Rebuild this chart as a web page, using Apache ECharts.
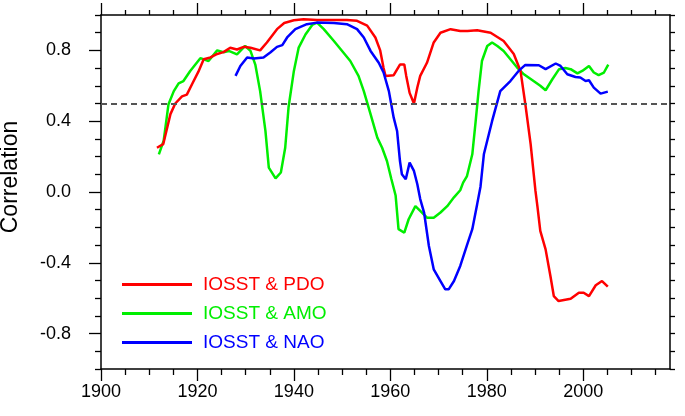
<!DOCTYPE html>
<html>
<head>
<meta charset="utf-8">
<script src="https://cdn.jsdelivr.net/npm/echarts@6/dist/echarts.min.js"></script>
<style>html,body{margin:0;padding:0;background:#fff}#c{width:685px;height:416px}</style>
</head>
<body>
<div id="c"></div>
<script>
// ---- data ----
const pdoYears = [1911.6,1912.9,1914.4,1915.4,1916.8,1917.8,1918.9,1920.2,1921.3,1922.7,1924.1,1925.4,1926.8,1928.2,1929.6,1931,1933,1934.4,1936.5,1938,1940,1942,1944.8,1948,1951,1953.1,1955.2,1956.9,1957.9,1958.6,1959,1960.7,1961.1,1962,1962.9,1963.3,1964,1964.9,1965.6,1966.2,1967.6,1969,1970.4,1972.5,1974.5,1976,1978,1980.8,1983.5,1985.6,1987,1988,1989.1,1990.1,1990.5,1991.1,1992.2,1993.2,1993.9,1994.9,1997.4,1999.1,2000.1,2001.2,2002.6,2003.9,2005.1];
const pdoValues = [0.25,0.27,0.44,0.50,0.54,0.55,0.61,0.68,0.75,0.76,0.78,0.79,0.815,0.805,0.82,0.815,0.80,0.845,0.92,0.955,0.97,0.976,0.972,0.972,0.972,0.967,0.94,0.873,0.80,0.70,0.656,0.66,0.656,0.72,0.72,0.656,0.56,0.50,0.59,0.656,0.73,0.845,0.90,0.92,0.91,0.91,0.914,0.90,0.853,0.78,0.684,0.496,0.27,0.006,-0.08,-0.22,-0.324,-0.475,-0.588,-0.616,-0.603,-0.569,-0.569,-0.588,-0.527,-0.503,-0.535];

const amoYears = [1912,1913,1914,1915.1,1916.1,1917.1,1918.5,1920.6,1922.3,1924.1,1925.4,1926.5,1928.2,1929.9,1931,1932,1933,1934.1,1934.8,1936.2,1937.3,1938.2,1938.9,1940,1941,1942.4,1943.8,1944.8,1946.2,1948.3,1950,1951.7,1953.4,1954.5,1955.9,1957.3,1958.3,1959.3,1960.2,1961.1,1961.7,1962.9,1963.8,1965.2,1966.2,1967.6,1969,1970.4,1971.8,1973.2,1974.5,1975.1,1975.9,1977,1977.7,1978.3,1979,1980.1,1981.1,1982.2,1983.5,1984.9,1986.3,1987.7,1989.7,1991.1,1992.2,1993.6,1995,1996.3,1997.4,1998.8,1999.8,2001.2,2002.2,2003.2,2004.3,2005.2];
const amoValues = [0.213,0.29,0.496,0.57,0.614,0.627,0.684,0.756,0.74,0.80,0.79,0.797,0.778,0.825,0.797,0.72,0.57,0.345,0.138,0.077,0.11,0.25,0.48,0.684,0.816,0.89,0.944,0.957,0.92,0.853,0.797,0.74,0.656,0.57,0.44,0.307,0.25,0.175,0.075,-0.02,-0.21,-0.23,-0.154,-0.08,-0.107,-0.145,-0.145,-0.116,-0.08,-0.03,0.01,0.053,0.09,0.213,0.40,0.57,0.74,0.825,0.845,0.825,0.797,0.75,0.703,0.665,0.627,0.60,0.575,0.637,0.694,0.70,0.694,0.67,0.684,0.712,0.675,0.66,0.675,0.72];

const naoYears = [1927.9,1928.9,1930.3,1931.7,1933.7,1935.1,1936.5,1937.6,1938.6,1940.3,1942.7,1944.8,1948.3,1951,1953.1,1954.5,1955.9,1957.6,1958.6,1959.7,1960.7,1961.4,1962,1962.4,1963.2,1964,1964.9,1965.6,1966.2,1967,1968,1969,1970.4,1971.4,1972.1,1973.2,1974.5,1975.9,1977,1978,1978.7,1979.4,1981.1,1982.8,1984.9,1986.6,1988,1990.8,1992.2,1994.3,1995.3,1996.7,1998.4,1999.4,2000.5,2001.2,2002.2,2003.6,2005.1];
const naoValues = [0.656,0.712,0.76,0.754,0.76,0.788,0.82,0.83,0.873,0.92,0.948,0.957,0.955,0.948,0.92,0.873,0.797,0.73,0.675,0.57,0.42,0.345,0.175,0.10,0.072,0.166,0.119,0.044,-0.04,-0.116,-0.305,-0.437,-0.503,-0.55,-0.55,-0.503,-0.418,-0.3,-0.21,-0.07,0.03,0.213,0.40,0.57,0.627,0.684,0.718,0.716,0.694,0.726,0.712,0.665,0.65,0.647,0.627,0.631,0.59,0.556,0.567];

const seriesNames = ['IOSST & PDO', 'IOSST & AMO', 'IOSST & NAO'];
const threshold = 0.5;

const xMajorTicks = [1900,1920,1940,1960,1980,2000];
const xMinorTicks = [1905,1910,1915,1925,1930,1935,1945,1950,1955,1965,1970,1975,1985,1990,1995,2005,2010,2015];
const yMajorTicks = [-0.8,-0.4,0,0.4,0.8];
const yMinorTicks = [-1,-0.9,-0.7,-0.6,-0.5,-0.3,-0.2,-0.1,0.1,0.2,0.3,0.5,0.6,0.7,0.9,1];
const yAllTicks = [-1,-0.9,-0.8,-0.7,-0.6,-0.5,-0.4,-0.3,-0.2,-0.1,0,0.1,0.2,0.3,0.4,0.5,0.6,0.7,0.8,0.9,1];

// ---- chart ----
const FONT = 'Liberation Sans';
const colors = ['#ff0000', '#00ee00', '#0000ff'];
const zip = (a, b) => a.map((v, i) => [v, b[i]]);
const axisLineStyle = { color: '#000', width: 1.5 };
const tickStyle = { color: '#000', width: 1.3 };

function xAx(pos, ticks, len, line, labels) {
  return {
    type: 'value', position: pos, min: 1900, max: 2018,
    axisLine: { show: line, onZero: false, lineStyle: axisLineStyle },
    axisTick: { show: true, customValues: ticks, length: len, lineStyle: tickStyle },
    axisLabel: labels ? { show: true, customValues: ticks, formatter: v => String(v), fontFamily: FONT, fontSize: 18, color: '#000', margin: 14 } : { show: false },
    splitLine: { show: false }, minorTick: { show: false }
  };
}
function yAx(pos, ticks, len, line, labels) {
  return {
    type: 'value', position: pos, min: -1, max: 1,
    axisLine: { show: line, onZero: false, lineStyle: axisLineStyle },
    axisTick: { show: true, customValues: ticks, length: len, lineStyle: tickStyle },
    axisLabel: labels ? { show: true, customValues: ticks, formatter: v => v.toFixed(1), fontFamily: FONT, fontSize: 18, color: '#000', margin: 30 } : { show: false },
    splitLine: { show: false }, minorTick: { show: false }
  };
}

const chart = echarts.init(document.getElementById('c'), null, { renderer: 'canvas' });
chart.setOption({
  animation: false,
  backgroundColor: '#fff',
  grid: { left: 101, right: 15, top: 15, bottom: 47, containLabel: false, outerBoundsMode: 'none' },
  xAxis: [
    xAx('bottom', xMajorTicks, 12, true, true),
    xAx('bottom', xMinorTicks, 6, false, false),
    xAx('top', xMajorTicks, 12, true, false),
    xAx('top', xMinorTicks, 5, false, false)
  ],
  yAxis: [
    yAx('left', yMajorTicks, 12, true, true),
    yAx('left', yMinorTicks, 6, false, false),
    yAx('right', yAllTicks, 5, true, false)
  ],
  legend: {
    orient: 'vertical', left: 122, top: 270, padding: 0,
    itemWidth: 70, itemHeight: 3, itemGap: 0, icon: 'rect',
    textStyle: { fontFamily: FONT, fontSize: 19, lineHeight: 29, padding: [0, 0, 0, 6] },
    data: seriesNames.map((n, i) => ({ name: n, textStyle: { color: colors[i] } }))
  },
  graphic: [{
    type: 'text', x: 11, y: 177, rotation: Math.PI / 2,
    style: { text: 'Correlation', fontFamily: FONT, fontSize: 23, fill: '#000', align: 'center', verticalAlign: 'middle' }
  }],
  series: [
    { name: seriesNames[0], type: 'line', data: zip(pdoYears, pdoValues), color: colors[0],
      showSymbol: false, symbol: 'none', lineStyle: { width: 2.5, color: colors[0] }, z: 3,
      markLine: { silent: true, symbol: 'none', label: { show: false },
        lineStyle: { type: [6, 4], color: '#555', width: 2 }, data: [{ yAxis: threshold }] } },
    { name: seriesNames[1], type: 'line', data: zip(amoYears, amoValues), color: colors[1],
      showSymbol: false, symbol: 'none', lineStyle: { width: 2.5, color: colors[1] }, z: 2 },
    { name: seriesNames[2], type: 'line', data: zip(naoYears, naoValues), color: colors[2],
      showSymbol: false, symbol: 'none', lineStyle: { width: 2.5, color: colors[2] }, z: 4 }
  ]
});
</script>
</body>
</html>
